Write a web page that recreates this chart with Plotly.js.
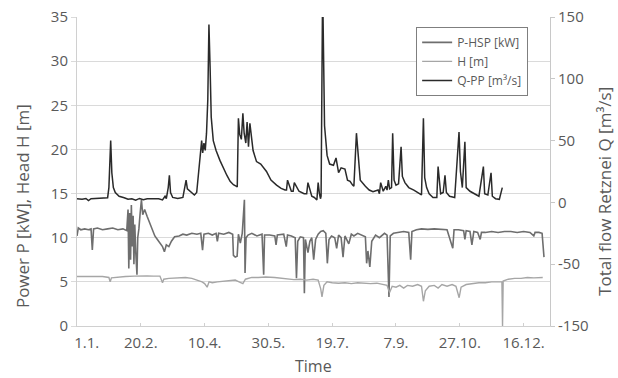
<!DOCTYPE html>
<html>
<head>
<meta charset="utf-8">
<script src="https://cdn.plot.ly/plotly-3.0.1.min.js"></script>
<style>html,body{margin:0;padding:0;background:#fff;}#chart{width:618px;height:378px;}</style>
</head>
<body>
<div id="chart"></div>
<script>
// Day offsets from 1.1. (leap year)
const tickDays = [0, 50, 100, 150, 200, 250, 300, 350];
const tickLabels = ['\u00a0\u00a0\u00a0\u00a0\u00a01.1.', '20.2.', '10.4.', '30.5.', '19.7.', '7.9.', '27.10.', '16.12.'];
const q2TickVals = [-100, -50, 0, 50, 100, 150];
const q2TickLabels = ['-150', '-50', '0', '50', '100', '150'];

// P-HSP [kW]
const pDays = [0,1,3,6,9,11,12,13,16,20,24,28,32,36,39,40,40.6,41.3,42,42.6,43.3,44,44.6,45.3,46,47,47.6,48.5,49.5,50.5,51.5,53,55,57,59,61,63,65,67,68.5,70,72,74,76.5,80,83,86,90,94,97,98.4,99.5,103,106,109,110,111,115,119,122,122.6,124,125.5,126.5,128,129.5,131.2,131.7,132.5,134,137,141,145,146.3,147,151,155,156,157,162,164,165,168,171,172,173,175,177.5,178.2,179,181,182.5,184,185.5,187,189,191,193,195,196.2,197.5,199.5,202,203.5,205,207,208.5,210,213,215,217,220,223,226,227,228,229.5,231,234,237,241,243,244.5,245.5,248,252,256,260,261.5,262.5,266,270,275,280,285,290,294.5,295.5,299,303,304,305,308,309.5,311,314,316,317,320,325,330,335,340,345,350,355,358,359,362,364.5,366];
const pVals = [10.2,11.1,10.9,11.0,10.9,11.0,8.6,11.0,11.1,10.9,11.0,11.1,10.9,11.0,10.8,13.2,6.5,12.8,7.5,13.7,9.0,12.5,7.0,11.5,8.5,5.8,10.0,11.0,12.8,14.3,12.6,13.2,12.4,11.6,10.8,10.2,9.8,9.4,9.0,8.4,9.2,9.0,9.6,10.1,10.2,10.4,10.3,10.5,10.4,10.5,8.6,10.4,10.5,10.3,10.5,9.6,10.5,10.4,10.6,10.4,8.0,7.8,7.9,10.4,9.4,10.5,14.3,6.0,10.0,10.3,10.5,10.2,10.4,5.8,10.3,10.3,10.2,9.2,10.3,10.4,9.0,10.3,10.2,10.0,5.4,9.6,10.1,10.0,3.7,9.8,8.3,9.6,10.0,7.5,9.8,10.4,10.7,10.8,10.5,7.1,9.8,10.2,10.0,8.8,10.3,10.0,7.8,10.2,9.3,10.4,10.2,10.5,10.3,10.1,7.1,8.5,6.7,9.6,10.3,10.0,10.5,10.3,3.3,10.2,10.5,10.6,10.7,10.6,7.5,10.7,10.9,11.0,10.95,11.0,10.95,10.9,8.8,10.9,10.9,10.8,9.8,10.8,10.7,9.2,10.7,10.6,9.8,10.6,10.6,10.7,10.6,10.7,10.7,10.6,10.7,10.6,10.2,10.6,10.6,10.5,7.8];

// H [m]
const hDays = [0,5,10,15,20,25,26,27,32,38,45,50,55,60,65,67,68,72,78,85,90,95,98,100,102,103.5,106,110,115,120,124,127,130,132,137,142,148,155,160,165,170,175,180,185,189,191,192,193.5,196,200,205,210,215,220,225,230,235,240,243,245,247,250,253,256,259,263,267,270,271.5,273,276,280,283,286,290,294,297,299.5,301,305,310,315,320,325,330,333,333.5,334,338,343,348,353,358,362,365];
const hVals = [5.6,5.6,5.6,5.58,5.6,5.5,5.0,5.45,5.55,5.6,5.65,5.7,5.68,5.65,5.65,4.9,5.3,5.4,5.45,5.5,5.4,5.2,5.0,4.8,4.4,5.0,4.9,5.0,5.1,5.2,5.2,5.0,4.8,5.3,5.5,5.5,5.55,5.5,5.4,5.3,5.25,5.3,5.2,5.3,5.2,4.2,3.3,4.6,5.0,4.9,4.85,4.9,4.8,4.9,4.85,4.8,4.85,4.7,4.6,3.8,4.5,4.4,4.6,4.3,4.6,4.5,4.7,4.5,2.8,4.0,4.5,4.6,4.3,4.7,4.5,4.7,4.5,3.2,4.4,4.7,4.8,4.9,4.9,5.0,5.0,5.0,0,5.1,5.3,5.4,5.4,5.5,5.45,5.5,5.5];

// Q-PP [m3/s]
const qDays = [0,4,7,9,11,16,20,24,25,26,26.4,27.3,28.5,30,33,37,40,43,46,49,52,55,60,64,67,69,70,71.5,72.4,73.3,75,79,83,84.5,85.5,86.5,88,90,92,93.8,95,96,97.7,98.5,99.5,100.5,101.5,102.5,103.4,104.3,105.2,106.8,109,112,114.5,117.4,120,122.6,125,125.6,126.5,127.5,128.8,130,131,132.3,133.3,134.4,135.5,138,140.7,144,148.5,152,156.4,160,163,164.2,165,168,169.4,170.3,174,178,180,181,184,186,188,189,190,190.8,191.3,192.5,194,196,198,201,203,205,207,210,212,214,216,217,219,222,226,229,232,234,236,237,238,240,242,243,244,245,246.5,247.4,248.5,250,252,254,255,257,260,264,268,270,271.5,272.5,274,276,279,282,283,285,287,288.4,289.5,292,296,299.4,300.5,302,304,305,308,312,315,318.5,319.5,322,324.5,325.5,328,331,333.3];
const qVals = [3.0,2.5,3.2,1.5,3.0,3.3,3.5,3.8,12,46,50,24,12,8,5,3.8,2.5,3.0,1.8,3.2,2.2,3.0,3.2,3.0,2.0,5,3,12,22,8,4,3.2,4,12,18,11,9.5,8,6,8,20,33,50,40,48,42,56,83,144,110,69,50,42,34,28,22,17,14.3,12.9,12.5,68,55,51,72,56,48,65,45,64,42,33,31,25,18,14,11.4,10,10,18,9,9,16,9,7,7,16,5,4,2,16,7,3,5,175,62,38,31,30,36,24,28,27,18,17,14,13,56,18,13,10,8.6,9,10,7,16,9,13,10,18,11,12,56,18,14,15,45,21,16,12,10,7,6,68,20,12,7,4,4,29,7,8,22,8,5,4,57,25,12,49,12,9,7,5,29,7,6,24,5,3,2.5,12];

function toDate(d) {
  return new Date(Date.UTC(2016, 0, 1) + d * 86400000).toISOString().slice(0, 19).replace('T', ' ');
}

const textColor = '#595959';
const traces = [
  {x: pDays.map(toDate), y: pVals, name: 'P-HSP [kW]', type: 'scatter', mode: 'lines',
   line: {color: '#6e6e6e', width: 1.6}, yaxis: 'y'},
  {x: hDays.map(toDate), y: hVals, name: 'H [m]', type: 'scatter', mode: 'lines',
   line: {color: '#a6a6a6', width: 1.4}, yaxis: 'y'},
  {x: qDays.map(toDate), y: qVals, name: 'Q-PP [m³/s]', type: 'scatter', mode: 'lines',
   line: {color: '#2a2a2a', width: 1.5}, yaxis: 'y2'}
];

const layout = {
  width: 618, height: 378,
  margin: {l: 77, r: 68, t: 17, b: 52},
  paper_bgcolor: '#ffffff', plot_bgcolor: '#ffffff',
  font: {family: 'Open Sans, sans-serif', color: textColor, size: 15},
  showlegend: true,
  legend: {x: 0.717, y: 0.968, xanchor: 'left', yanchor: 'top',
    bgcolor: '#ffffff', bordercolor: '#7f7f7f', borderwidth: 1,
    font: {size: 12, color: textColor}, tracegroupgap: 0},
  xaxis: {
    type: 'date', range: [toDate(0), toDate(370.7)],
    tickvals: tickDays.map(toDate), ticktext: tickLabels,
    showgrid: false, zeroline: false, showline: true, linecolor: '#d0d0d0',
    ticks: 'inside', ticklen: 3, tickcolor: '#d0d0d0', ticklabelstandoff: 3,
    tickfont: {size: 15, color: textColor}
  },
  yaxis: {
    range: [0, 35], dtick: 5, tick0: 0,
    showgrid: true, gridcolor: '#dadada', gridwidth: 1,
    zeroline: false, showline: true, linecolor: '#d0d0d0',
    ticks: 'outside', ticklen: 5, tickcolor: '#dadada',
    tickfont: {size: 15, color: textColor}
  },
  yaxis2: {
    overlaying: 'y', side: 'right', range: [-100, 150],
    tickvals: q2TickVals, ticktext: q2TickLabels,
    showgrid: false, zeroline: false, showline: true, linecolor: '#c8c8c8',
    ticks: 'outside', ticklen: 4, tickcolor: '#c8c8c8',
    tickfont: {size: 15, color: textColor}
  },
  annotations: [
    {text: 'Power P [kW], Head H [m]', xref: 'paper', yref: 'paper', x: -0.1163, y: 0.388,
     xanchor: 'center', yanchor: 'middle', textangle: -90, showarrow: false,
     font: {size: 17, color: textColor}},
    {text: 'Total flow Retznei Q [m³/s]', xref: 'paper', yref: 'paper', x: 1.1163, y: 0.434,
     xanchor: 'center', yanchor: 'middle', textangle: -90, showarrow: false,
     font: {size: 17, color: textColor}},
    {text: 'Time', xref: 'paper', yref: 'paper', x: 0.5, y: -0.128,
     xanchor: 'center', yanchor: 'middle', showarrow: false,
     font: {size: 16, color: textColor}}
  ]
};

Plotly.newPlot('chart', traces, layout, {displayModeBar: false, staticPlot: true});
</script>
</body>
</html>
